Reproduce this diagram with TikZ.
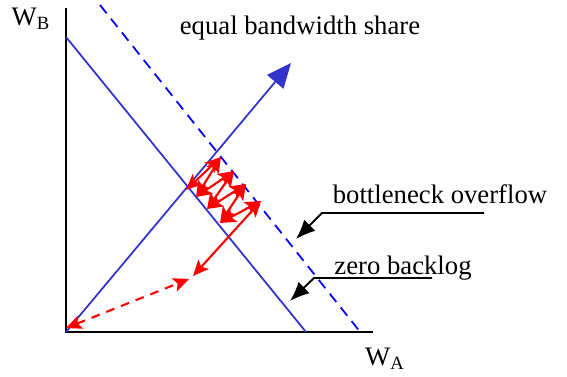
\documentclass[tikz,border=0pt]{standalone}
\usepackage{fontspec}
\setmainfont{Liberation Serif}
\usetikzlibrary{arrows.meta}
\definecolor{lineblue}{RGB}{51,51,204}
\tikzset{
  axis/.style={line width=1.4pt,black},
  bl/.style={line width=1.0pt,lineblue},
  osc/.style={line width=1.2pt,red,{Stealth[length=9pt,width=8pt,inset=2pt]}-{Stealth[length=9pt,width=8pt,inset=2pt]}},
  callout/.style={line width=1.1pt,black,-{Latex[length=11pt,width=9pt]}},
  lbl/.style={font=\fontsize{15.2}{17}\selectfont,inner sep=0pt}
}
\begin{document}
\begin{tikzpicture}[x=0.02cm,y=-0.02cm]
\useasboundingbox (0,0) rectangle (567,377);
% axes
\coordinate (O) at (66,332);
\coordinate (Ytop) at (66,8);
\coordinate (Xend) at (373,332);
\draw[axis] (Ytop) -- (O) -- (Xend);
\node[lbl] (wb) at (31,19) {W\textsubscript{B}};
\node[lbl] (wa) at (385,359) {W\textsubscript{A}};
% lines
\coordinate (s1) at (66,37);
\coordinate (s2) at (306,332);
\draw[bl] (s1) -- (s2);
\coordinate (d1) at (100,5);
\coordinate (d2) at (361,333);
\draw[line width=1.0pt,blue,dash pattern=on 6pt off 4pt] (d1) -- (d2);
\coordinate (f2) at (291,63);
\draw[bl,-{Triangle[length=14pt,width=12pt]}] (O) -- (f2);
% texts
\node[lbl] (eq) at (300,28) {equal bandwidth share};
\node[lbl] (bo) at (440,194) {bottleneck overflow};
\node[lbl] (zb) at (403,268) {zero backlog};
% callouts
\coordinate (bo1) at (484,213);
\coordinate (bo2) at (322,213);
\coordinate (bot) at (296,239);
\draw[callout] (bo1) -- (bo2) -- (bot);
\coordinate (zb1) at (432,278);
\coordinate (zb2) at (314,278);
\coordinate (zbt) at (290,301);
\draw[callout] (zb1) -- (zb2) -- (zbt);
% oscillation
\coordinate (p0) at (66,328);
\coordinate (p1) at (189,279);
\coordinate (p2) at (261,201);
\coordinate (p3) at (220,223);
\coordinate (p4) at (246,184);
\coordinate (p5) at (207,209);
\coordinate (p6) at (234,171);
\coordinate (p7) at (196,197);
\coordinate (p8) at (221,157);
\coordinate (p9) at (186,190);
\coordinate (p1b) at (193,276);
\draw[osc,dash pattern=on 5pt off 4pt] (p0) -- (p1);
\draw[osc] (p1b) -- (p2);
\draw[osc] (p2) -- (p3);
\draw[osc] (p3) -- (p4);
\draw[osc] (p4) -- (p5);
\draw[osc] (p5) -- (p6);
\draw[osc] (p6) -- (p7);
\draw[osc] (p7) -- (p8);
\draw[osc] (p8) -- (p9);
\end{tikzpicture}
\end{document}
